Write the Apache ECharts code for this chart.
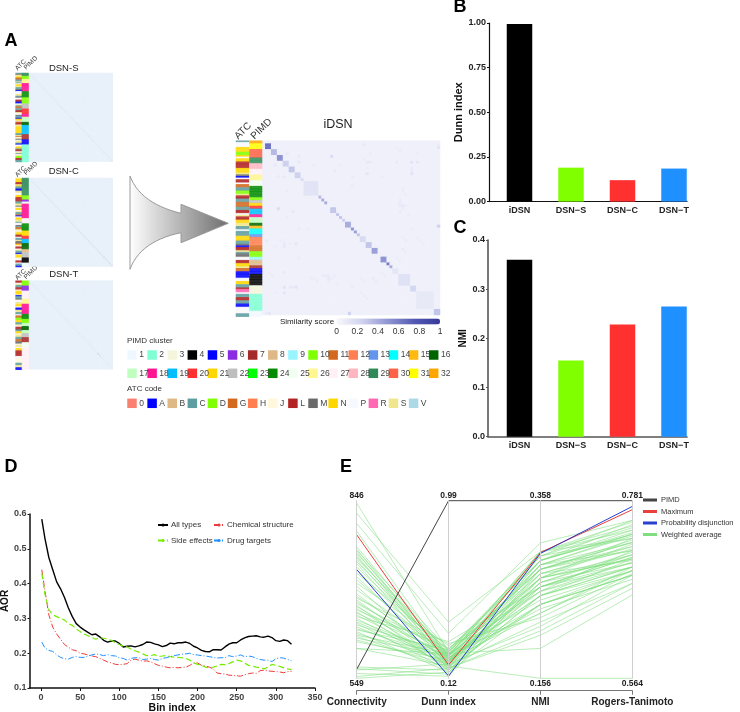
<!DOCTYPE html>
<html><head><meta charset="utf-8">
<style>html,body{margin:0;padding:0;background:#fff}#c{width:740px;height:712px}</style>
<script src="https://cdn.jsdelivr.net/npm/echarts@6/dist/echarts.min.js"></script>
</head><body><div id="c"></div>
<script>
const FONT='"Liberation Sans",Arial,sans-serif';
// ---- Panels B, C
const methods=['iDSN','DSN\u2212S','DSN\u2212C','DSN\u2212T'];
const methodColors=['#000000','#7fff00','#ff3030','#1e90ff'];
const dunnValues=[0.995,0.19,0.12,0.185];
const nmiValues=[0.36,0.155,0.228,0.265];
// ---- Panel D
const binIndex=[1,5,10,15,20,25,30,35,40,45,50,55,60,65,70,75,80,85,90,95,100,105,110,115,120,125,130,135,140,145,150,155,160,165,170,175,180,185,190,195,200,205,210,215,220,225,230,235,240,245,250,255,260,265,270,275,280,285,290,295,300,305,310,315,320];
const aorAll=[0.585,0.53,0.475,0.44,0.405,0.385,0.36,0.33,0.305,0.285,0.275,0.267,0.26,0.253,0.255,0.247,0.237,0.232,0.235,0.235,0.228,0.218,0.22,0.221,0.218,0.221,0.225,0.232,0.231,0.227,0.224,0.219,0.222,0.229,0.227,0.23,0.23,0.232,0.228,0.22,0.215,0.208,0.205,0.204,0.21,0.21,0.209,0.218,0.226,0.23,0.23,0.238,0.244,0.248,0.249,0.25,0.247,0.246,0.249,0.245,0.236,0.234,0.238,0.236,0.226];
const aorChem=[0.44,0.38,0.31,0.275,0.255,0.24,0.225,0.217,0.21,0.207,0.2,0.198,0.195,0.192,0.19,0.185,0.18,0.175,0.172,0.168,0.167,0.168,0.17,0.18,0.183,0.18,0.177,0.178,0.175,0.17,0.165,0.163,0.16,0.158,0.159,0.158,0.159,0.16,0.165,0.172,0.172,0.165,0.163,0.16,0.155,0.143,0.141,0.14,0.137,0.136,0.135,0.134,0.138,0.141,0.143,0.142,0.15,0.151,0.149,0.148,0.147,0.146,0.144,0.147,0.148];
const aorSide=[0.43,0.37,0.325,0.31,0.305,0.3,0.295,0.285,0.28,0.27,0.262,0.255,0.25,0.245,0.24,0.245,0.243,0.24,0.237,0.23,0.225,0.22,0.218,0.212,0.207,0.203,0.198,0.193,0.193,0.196,0.19,0.192,0.193,0.19,0.189,0.188,0.187,0.185,0.18,0.172,0.168,0.165,0.16,0.158,0.16,0.163,0.168,0.167,0.17,0.175,0.18,0.178,0.172,0.165,0.163,0.16,0.158,0.155,0.16,0.168,0.165,0.162,0.158,0.155,0.153];
const aorDrug=[0.232,0.215,0.208,0.205,0.195,0.188,0.184,0.183,0.188,0.19,0.188,0.188,0.192,0.195,0.198,0.196,0.193,0.196,0.193,0.192,0.187,0.185,0.18,0.185,0.187,0.187,0.182,0.183,0.185,0.182,0.18,0.185,0.187,0.19,0.193,0.195,0.197,0.198,0.2,0.196,0.195,0.193,0.192,0.19,0.188,0.186,0.187,0.187,0.193,0.19,0.192,0.195,0.19,0.192,0.19,0.185,0.182,0.18,0.18,0.176,0.184,0.187,0.186,0.182,0.178];
// ---- Panel E
const parallelNames=['Connectivity','Dunn index','NMI','Rogers-Tanimoto'];
const parallelMax=[846,0.99,0.358,0.781];
const parallelMin=[549,0.12,0.156,0.564];
const rowPIMD=[564,0.99,0.358,0.781];
const rowMaximum=[789,0.185,0.299,0.77];
const rowProbability=[731,0.131,0.298,0.774];
const weightedConn=[842,825,808,795,769,765,763,760,758,755,752,750,747,744,741,735,730,725,719,714,708,703,697,690,686,683,680,677,674,671,669,666,663,660,658,655,652,649,646,643,641,638,635,632,630,627,624,621,619,616,613,610,599,599,568,565,563,557,552,549];
const weightedDunn=[0.25,0.395,0.34,0.22,0.23,0.2,0.26,0.21,0.24,0.19,0.22,0.25,0.2,0.23,0.18,0.24,0.21,0.26,0.19,0.22,0.28,0.17,0.24,0.2,0.23,0.29,0.18,0.21,0.25,0.16,0.22,0.19,0.27,0.17,0.24,0.2,0.3,0.18,0.23,0.21,0.16,0.25,0.19,0.22,0.26,0.15,0.2,0.24,0.17,0.23,0.19,0.21,0.18,0.242,0.16,0.14,0.19,0.13,0.17,0.15];
const weightedNMI=[0.29,0.3,0.31,0.285,0.3,0.27,0.295,0.26,0.28,0.29,0.25,0.275,0.265,0.3,0.24,0.28,0.255,0.29,0.27,0.235,0.26,0.285,0.245,0.3,0.27,0.225,0.28,0.25,0.295,0.265,0.24,0.29,0.255,0.275,0.23,0.285,0.26,0.22,0.27,0.295,0.25,0.28,0.215,0.26,0.29,0.24,0.275,0.255,0.21,0.285,0.265,0.23,0.156,0.19,0.25,0.28,0.24,0.27,0.205,0.26];
const weightedRT=[0.752,0.735,0.757,0.72,0.745,0.71,0.735,0.7,0.73,0.74,0.695,0.725,0.705,0.75,0.69,0.72,0.7,0.742,0.715,0.685,0.705,0.73,0.695,0.755,0.71,0.692,0.725,0.7,0.748,0.715,0.69,0.74,0.72,0.708,0.696,0.738,0.712,0.68,0.728,0.757,0.7,0.733,0.69,0.715,0.745,0.696,0.722,0.706,0.68,0.74,0.718,0.7,0.564,0.666,0.71,0.73,0.69,0.735,0.674,0.712];
// ---- Panel A colour keys
const pimdColors=['#f0f8ff','#7fffd4','#f5f5dc','#000000','#0000ff','#8a2be2','#a52a2a','#deb887','#98f5ff','#7fff00','#d2691e','#ff7f50','#6495ed','#00ffff','#ffb90f','#006400','#c1ffc1','#ff1493','#00bfff','#ff3030','#ffd700','#bebebe','#00ff00','#008b00','#f0fff0','#fff68f','#fff0f5','#ffb6c1','#2e8b57','#ff6347','#ffff00','#ffa500'];
const atcLabels=['0','A','B','C','D','G','H','J','L','M','N','P','R','S','V'];
const atcColors=['#fa8072','#0000ff','#deb887','#5f9ea0','#7fff00','#d2691e','#ff7f50','#fff8dc','#b22222','#696969','#ffd700','#f8f8ff','#ff69b4','#f0e68c','#add8e6'];
// ---- Panel A annotation strips: [cluster, rows]
const iDsnPimd=[[32,1],[31,2],[30,3],[29,2],[28,2],[27,2],[26,2],[25,2],[24,4],[10,1],[22,1],[21,1],[20,1],[19,2],[18,1],[17,2],[16,1],[15,1],[14,2],[13,1],[12,3],[11,2],[10,2],[9,1],[8,2],[7,1],[5,2],[4,4],[3,3],[2,6],[1,2]];
const dsnSPimd=[[29,3],[10,3],[26,4],[18,8],[24,6],[10,6],[22,5],[20,5],[18,3],[17,5],[16,3],[19,9],[7,5],[5,5],[2,17]];
const dsnCPimd=[[29,17],[10,4],[6,2],[25,2],[18,14],[27,5],[24,7],[21,5],[20,3],[19,4],[16,6],[8,3],[22,5],[4,5],[1,4]];
const dsnTPimd=[[10,5],[6,5],[27,8],[26,5],[18,10],[24,5],[10,4],[17,3],[16,4],[17,3],[22,4],[7,5],[25,5],[27,22]];
const iDsnAtc='CPPPNNNDDNPNNLLLLNNNSMAPLLPGGCCDDSLLCCGGGCCLLPSLLNNSSCCPCCCNNNCCMALLSCMMPPLLNNSGGAAAAPPNNCCLRRPCCLLCCAAPPPPCC';
const dsnSAtc='CMSSNGGCCSCPNNSCCMAPPPSSCMPPLLAAPSCGGCCLLSPPMCCANNPGLLSSNNNNNNNCCSGPSMPSSCAPPNNCLLPSCPSDDLLCC';
const dsnCAtc='SNNNLLSNCCAASSPPNNLLLLCCSSMPNNPSCCGAPNNSSCPPMCGGSPSNNLLPCCSMMGNPLLPSCCASNNSPPLLPCCA';
const dsnTAtc='LLPSCCLLPNNNSACCMPPSSNNPAASSCCPGGDDNNCCSPLLMCNNPSSCCGGMMPSSPNNLLLLLPPJJJJCCSSAA';
// ---- Panel A heatmaps
const iDsnSize=60;
const iDsnBlocks=[[1,3,.65],[3,5,.35],[5,7,.5],[7,9,.25],[9,11,.3],[11,13,.25],[13,14,.2],[14,19,.13],[19,20,.35],[20,21,.4],[21,22,.4],[23,25,.3],[25,26,.3],[26,27,.3],[27,28,.25],[28,30,.4],[30,31,.5],[31,32,.45],[32,33,.3],[33,35,.2],[35,37,.3],[37,39,.45],[40,42,.5],[42,43,.6],[43,44,.4],[44,46,.12],[46,50,.15],[50,52,.22],[52,58,.1],[58,60,.3]];
const iDsnLinks=[[5,23,.18],[7,12,.1],[7,35,.1],[11,35,.12],[7,50,.13],[11,50,.13],[4,52,.08],[29,59,.25],[2,59,.12],[1,34,.1],[22,47,.1],[7,52,.12],[7,36,.1],[7,45,.09],[10,24,.1],[1,59,.08],[21,46,.09],[22,46,.09],[22,48,.08],[37,47,.09],[38,48,.08],[15,30,.08],[4,8,.1],[8,17,.08],[30,50,.08],[33,52,.08],[5,12,.09],[8,26,.08],[9,35,.08],[12,40,.08],[16,47,.08],[17,47,.08],[18,48,.08],[20,46,.08],[23,47,.08],[24,46,.08],[25,49,.08],[9,50,.09],[10,50,.09],[33,47,.08],[34,48,.08],[34,53,.08],[35,54,.08],[40,45,.08],[41,46,.08],[2,45,.08],[3,46,.08],[4,36,.08],[6,34,.08],[12,30,.08]];
const smallSize=44;
const dsnSDiag=[.05,.1,.12,.1,.12,.08,.1,.14,.1,.12,.08,.12,.14,.1,.1,.08,.12,.15,.1,.12,.1,.08,.14,.12,.1,.15,.12,.1,.14,.1,.12,.15,.1,.14,.12,.1,.15,.12,.1,.12,.14,.1,.12,.1];
const dsnCDiag=[.08,.1,.1,.12,.1,.12,.14,.1,.15,.12,.1,.14,.16,.12,.14,.1,.12,.15,.18,.14,.12,.18,.2,.16,.18,.15,.2,.22,.18,.2,.16,.22,.2,.18,.24,.2,.22,.25,.2,.3,.22,.2,.25,.18];
const dsnTDiag=[.05,.08,.1,.08,.1,.06,.1,.08,.1,.08,.06,.1,.08,.1,.06,.08,.1,.08,.06,.1,.08,.1,.08,.1,.06,.08,.12,.08,.1,.08,.06,.1,.12,.1,.08,.1,.4,.25,.1,.08,.06,.08,.06,.05];
const similarityTicks=[0,0.2,0.4,0.6,0.8,1];

// ---- builders
const expand=runs=>runs.flatMap(([c,n])=>Array(n).fill(c));
const idx=n=>Array.from({length:n},(_,i)=>i);
const grids=[],xAxes=[],yAxes=[],series=[];
function addGrid(g,x,y){grids.push(g);const i=grids.length-1;xAxes.push(Object.assign({gridIndex:i},x));yAxes.push(Object.assign({gridIndex:i},y));return i;}
function matrixFrom(n,blocks,links){
  const m=idx(n).map(()=>Array(n).fill(0.05));
  blocks.forEach(([a,b,v])=>{for(let i=a;i<b;i++)for(let j=a;j<b;j++)m[i][j]=v;});
  (links||[]).forEach(([i,j,v])=>{m[i][j]=v;m[j][i]=v;});
  return m;
}
function addHeat(name,box,n,matrix){
  const g=addGrid(box,
    {type:'category',data:idx(n),show:false},
    {type:'category',data:idx(n),inverse:true,show:false});
  const d=[];matrix.forEach((r,i)=>r.forEach((v,j)=>d.push([j,i,v])));
  series.push({name,type:'heatmap',xAxisIndex:g,yAxisIndex:g,data:d,progressive:0,silent:true});
  return series.length-1;
}
function addStrip(name,box,colors){
  const g=addGrid(box,
    {type:'category',data:[0],show:false},
    {type:'category',data:idx(colors.length),inverse:true,show:false});
  series.push({name,type:'heatmap',xAxisIndex:g,yAxisIndex:g,progressive:0,silent:true,
    data:colors.map((c,i)=>({value:[0,i,1],itemStyle:{color:c,opacity:0.85}}))});
}
const atcOf=s=>s.split('').map(ch=>atcColors[atcLabels.indexOf(ch)]);
const pimdOf=runs=>expand(runs).map(c=>pimdColors[c-1]);

// iDSN
const bigIdx=addHeat('iDSN',{left:262.3,top:140.7,width:177.7,height:174.3},iDsnSize,matrixFrom(iDsnSize,iDsnBlocks,iDsnLinks));
addStrip('iDSN ATC',{left:236,top:140.7,width:13,height:176},atcOf(iDsnAtc));
addStrip('iDSN PIMD',{left:249.5,top:140.7,width:12.5,height:176},pimdOf(iDsnPimd));
// small heatmaps
const smallPanels=[['DSN-S',73,dsnSDiag,dsnSAtc,dsnSPimd],['DSN-C',178,dsnCDiag,dsnCAtc,dsnCPimd],['DSN-T',280.7,dsnTDiag,dsnTAtc,dsnTPimd]];
const smallIdx=[];
smallPanels.forEach(([name,top,diag,atc,pimd])=>{
  const m=idx(smallSize).map(()=>Array(smallSize).fill(0));
  diag.forEach((v,i)=>{m[i][i]=v;});
  smallIdx.push(addHeat(name,{left:29,top,width:83.7,height:88.5},smallSize,m));
  addStrip(name+' ATC',{left:15.7,top,width:6.3,height:89},atcOf(atc));
  addStrip(name+' PIMD',{left:22,top,width:6.5,height:89},pimdOf(pimd));
});
// colour bar axis
addGrid({left:336.7,top:325,width:103.3,height:1},
  {type:'value',min:0,max:1,interval:0.2,axisLine:{show:false},axisTick:{show:false},splitLine:{show:false},
   axisLabel:{customValues:similarityTicks,fontSize:8.5,color:'#333',margin:1,fontFamily:FONT,formatter:v=>String(+v.toFixed(1))}},
  {type:'value',show:false});
// key swatches
function addKey(name,top,height,rows,labels,colors,perRow){
  const g=addGrid({left:132,top,width:301.7,height},
    {type:'value',min:0,max:15,show:false},{type:'value',min:0,max:Math.max(rows-1,1),inverse:true,show:false});
  series.push({name,type:'scatter',xAxisIndex:g,yAxisIndex:g,symbol:'rect',symbolSize:9.5,clip:false,silent:true,
    data:labels.map((l,i)=>({value:[i%perRow,Math.floor(i/perRow)],name:l,itemStyle:{color:colors[i],opacity:1}})),
    label:{show:true,position:'right',distance:2.5,formatter:p=>p.name,fontSize:8.5,color:'#444',fontFamily:FONT}});
}
addKey('PIMD cluster',355,18.3,2,pimdColors.map((c,i)=>String(i+1)),pimdColors,16);
addKey('ATC code',403.3,1,1,atcLabels,atcColors,16);

// bar panels
function addBars(name,box,values,yMax,step,decimals,nameGap,axisCol,axisW){
  const pxPerCat=51.5,first=519.5;
  const g=addGrid(box,
    {type:'value',min:(box.left-first)/pxPerCat,max:(box.left+box.width-first)/pxPerCat,
     splitLine:{show:false},axisLine:{show:true,onZero:false,lineStyle:{color:axisCol,width:axisW}},axisTick:{show:false},
     axisLabel:{customValues:[0,1,2,3],formatter:v=>methods[v],fontSize:9,fontWeight:'bold',color:'#222',margin:4,fontFamily:FONT}},
    {type:'value',min:0,max:yMax,interval:step,name,nameLocation:'middle',nameGap,
     nameTextStyle:{fontSize:name==='NMI'?10:11,fontWeight:'bold',color:'#111',fontFamily:FONT},
     splitLine:{show:false},axisLine:{show:true,onZero:false,lineStyle:{color:axisCol,width:axisW}},axisTick:{show:true,length:2,lineStyle:{color:axisCol}},
     axisLabel:{fontSize:9,fontWeight:'bold',color:'#222',margin:3,fontFamily:FONT,formatter:v=>v.toFixed(decimals)}});
  series.push({name:name+' bars',type:'bar',xAxisIndex:g,yAxisIndex:g,barWidth:25.5,silent:true,
    data:values.map((v,i)=>({value:[i,v],itemStyle:{color:methodColors[i]}}))});
}
addBars('Dunn index',{left:489,top:23,width:198,height:178.6},dunnValues,1,0.25,2,25,'#111',1.2);
addBars('NMI',{left:488,top:240,width:199,height:196.7},nmiValues,0.4,0.1,1,18,'#555',1.6);

// panel D
const gD=addGrid({left:29.5,top:514,width:285.5,height:174},
  {type:'value',min:-14.7,max:350,name:'Bin index',nameLocation:'middle',nameGap:15,
   nameTextStyle:{fontSize:10.5,fontWeight:'bold',color:'#111',fontFamily:FONT},
   splitLine:{show:false},axisLine:{show:true,onZero:false,lineStyle:{color:'#111',width:1.5}},
   axisTick:{show:true,length:3,customValues:[0,50,100,150,200,250,300,350],lineStyle:{color:'#111'}},
   axisLabel:{customValues:[0,50,100,150,200,250,300,350],fontSize:9,fontWeight:'bold',color:'#444',margin:5,fontFamily:FONT}},
  {type:'value',min:0.1,max:0.6,interval:0.1,name:'AOR',nameLocation:'middle',nameGap:19,
   nameTextStyle:{fontSize:10,fontWeight:'bold',color:'#111',fontFamily:FONT},
   splitLine:{show:false},axisLine:{show:true,onZero:false,lineStyle:{color:'#111',width:1.5}},axisTick:{show:true,length:2,lineStyle:{color:'#111'}},
   axisLabel:{fontSize:9,fontWeight:'bold',color:'#444',margin:3,fontFamily:FONT,formatter:v=>v.toFixed(1)}});
const zip=vals=>binIndex.map((b,i)=>[b,vals[i]]);
[['All types',aorAll,'#000000',1.4,'solid'],
 ['Chemical structure',aorChem,'#ee3b3b',1,[6,2,1,2]],
 ['Side effects',aorSide,'#76ee00',1.2,[6,3]],
 ['Drug targets',aorDrug,'#1e90ff',1,[6,2,1,2]]].forEach(([name,vals,color,width,type])=>{
  series.push({name,type:'line',xAxisIndex:gD,yAxisIndex:gD,data:zip(vals),showSymbol:false,symbol:'none',silent:true,
    lineStyle:{color,width,type},itemStyle:{color}});
});

// panel E
const weightedRows=weightedConn.map((c,i)=>[c,weightedDunn[i],weightedNMI[i],weightedRT[i]]);
[['Weighted average',weightedRows,'#7fdf7f',0.55,1],
 ['Maximum',[rowMaximum],'#e8403a',1,1],
 ['Probability disjunction',[rowProbability],'#2b3fd0',1,1],
 ['PIMD',[rowPIMD],'#444444',1,1]].forEach(([name,data,color,opacity,width])=>{
  series.push({name,type:'parallel',parallelIndex:0,data,silent:true,inactiveOpacity:1,activeOpacity:1,smooth:false,
    lineStyle:{color,opacity,width},itemStyle:{color}});
});
addGrid({left:356.7,top:500.7,width:275.6,height:190},
  {type:'category',boundaryGap:false,data:parallelNames,position:'bottom',
   axisLine:{show:true,lineStyle:{color:'#777'}},axisTick:{show:true,length:4,inside:false,alignWithLabel:true,lineStyle:{color:'#777'}},
   axisLabel:{interval:0,fontSize:10,fontWeight:'bold',color:'#222',margin:7,fontFamily:FONT}},
  {type:'value',show:false,min:0,max:1});
xAxes.push({gridIndex:grids.length-1,type:'category',boundaryGap:false,data:parallelMax.map(String),position:'top',
  axisLine:{show:false},axisTick:{show:false},axisLabel:{interval:0,fontSize:8.5,fontWeight:'bold',color:'#222',margin:1,fontFamily:FONT}});

const txt=(text,x,y,size,o)=>Object.assign({type:'text',x,y,silent:true,style:Object.assign({text,fill:'#222',font:`${size}px ${FONT}`,textAlign:'center',textVerticalAlign:'middle'},o&&o.style)},o&&o.el);
const rotLabel=(text,x,y,size)=>({type:'text',x,y,rotation:Math.PI/4,silent:true,style:{text,fill:'#333',font:`${size}px ${FONT}`,textAlign:'center',textVerticalAlign:'middle'}});
// arrow outline between the DSN panels and iDSN
const bez=(p0,p1,p2,p3,steps)=>idx(steps+1).map(k=>{const t=k/steps,u=1-t;return [0,1].map(a=>u*u*u*p0[a]+3*u*u*t*p1[a]+3*u*t*t*p2[a]+t*t*t*p3[a]);});
const arrowOutline=[...bez([130,176],[137,195],[155,207],[181,213.3],14),[181,204.3],[228.3,223.3],[181,242.7],...bez([181,232.7],[155,238],[137,250],[130,269.3],14)];
const graphic=[
 txt('A',11,41,18,{style:{font:`bold 18px ${FONT}`,fill:'#000'}}),
 txt('B',460,7,18,{style:{font:`bold 18px ${FONT}`,fill:'#000'}}),
 txt('C',460,228,18,{style:{font:`bold 18px ${FONT}`,fill:'#000'}}),
 txt('D',11,467,18,{style:{font:`bold 18px ${FONT}`,fill:'#000'}}),
 txt('E',346,467,18,{style:{font:`bold 18px ${FONT}`,fill:'#000'}}),
 txt('DSN-S',63.7,68,9.5),txt('DSN-C',63.7,171,9.5),txt('DSN-T',63.7,274.5,9.5),
 txt('iDSN',338,125,12.5),
 rotLabel('ATC',20.7,65,6.5),rotLabel('PIMD',30.7,63,6.5),
 rotLabel('ATC',20.7,171.5,6.5),rotLabel('PIMD',30.7,168.5,6.5),
 rotLabel('ATC',20.7,274.5,6.5),rotLabel('PIMD',30.7,272.5,6.5),
 rotLabel('ATC',243,131,10),rotLabel('PIMD',261.5,129,10),
 txt('Similarity score',307,322,8),
 txt('PIMD cluster',127,340.5,8,{style:{textAlign:'left',fill:'#333'}}),
 txt('ATC code',127,389,8,{style:{textAlign:'left',fill:'#333'}}),
 {type:'polygon',silent:true,shape:{points:arrowOutline},
  style:{stroke:'#9a9a9a',lineWidth:1,fill:new echarts.graphic.LinearGradient(0,0,1,0,[{offset:0,color:'#ffffff'},{offset:1,color:'#6e6e6e'}])}}
];

const legendCommon={selectedMode:false,itemWidth:10,itemHeight:4,padding:0,textStyle:{fontSize:8,color:'#333',fontFamily:FONT,padding:[0,0,0,-2]}};
const chart=echarts.init(document.getElementById('c'));
const parallelAxisStyle={nameLocation:'start',nameGap:1,
  nameTextStyle:{fontSize:8.5,fontWeight:'bold',color:'#222',fontFamily:FONT,verticalAlign:'top'},
  axisLine:{show:true,lineStyle:{color:'#cfcfcf'}},axisTick:{show:false},
  axisLabel:{show:false,formatter:()=>''},splitLine:{show:false}};
chart.setOption({
  animation:false,backgroundColor:'#fff',textStyle:{fontFamily:FONT},
  grid:grids.map(g=>Object.assign({containLabel:false,outerBoundsMode:'none'},g)),xAxis:xAxes,yAxis:yAxes,series,graphic,
  visualMap:[
   {type:'continuous',seriesIndex:[bigIdx],min:0,max:1,orient:'horizontal',left:336.7,top:318.5,itemWidth:6,itemHeight:103.3,padding:0,
    calculable:false,hoverLink:false,realtime:false,inRange:{color:['#f7f8fd','#cfd2ee','#8f94d2','#5459b4','#35399a']}},
   {type:'continuous',seriesIndex:smallIdx,min:0,max:1.8,show:false,inRange:{color:['#e8f0fa','#7f95c2']}}
  ],
  parallel:{left:356.7,right:740-632.3,top:500.7,height:177.6,layout:'horizontal'},
  parallelAxis:parallelNames.map((n,i)=>Object.assign({type:'value',dim:i,name:String(parallelMin[i]),min:parallelMin[i],max:parallelMax[i]},parallelAxisStyle)),
  legend:[
   Object.assign({},legendCommon,{orient:'vertical',left:157,top:521,itemGap:7.5,data:['All types','Side effects']}),
   Object.assign({},legendCommon,{orient:'vertical',left:213,top:521,itemGap:7.5,data:['Chemical structure','Drug targets']}),
   Object.assign({},legendCommon,{orient:'vertical',left:643,top:496,itemGap:3.5,itemWidth:12,itemHeight:1,icon:'rect',textStyle:{fontSize:7.5,color:'#333',fontFamily:FONT},data:['PIMD','Maximum','Probability disjunction','Weighted average']})
  ]
});
</script></body></html>
